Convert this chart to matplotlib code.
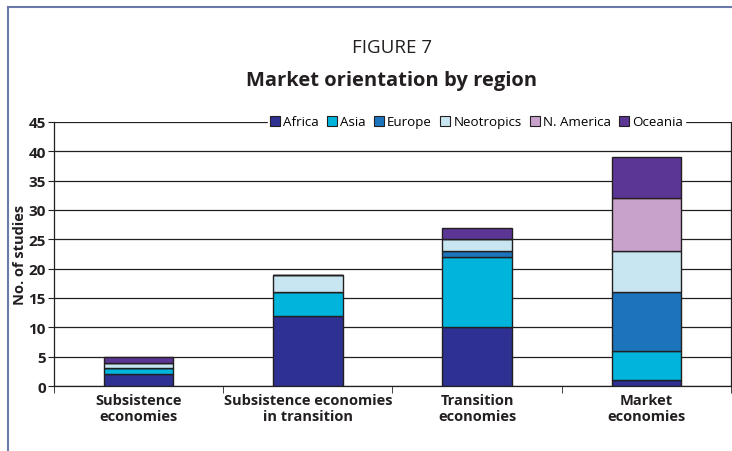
import numpy as np
import matplotlib.pyplot as plt
from matplotlib.lines import Line2D

plt.rcParams['font.family'] = ['Open Sans', 'DejaVu Sans']

# categories and stacked counts per region
categories = ['Subsistence\neconomies', 'Subsistence economies\nin transition',
              'Transition\neconomies', 'Market\neconomies']
regions = ['Africa', 'Asia', 'Europe', 'Neotropics', 'N. America', 'Oceania']
africa = [2, 12, 10, 1]
asia = [1, 4, 12, 5]
europe = [0, 0, 1, 10]
neotropics = [1, 3, 2, 7]
n_america = [0, 0, 0, 9]
oceania = [1, 0, 2, 7]
colors = ['#2e3192', '#00b4dc', '#1c75bc', '#c8e6f2', '#c9a2cc', '#5b3694']

series = [africa, asia, europe, neotropics, n_america, oceania]

fig = plt.figure(figsize=(7.32, 4.52), dpi=100)
ax = fig.add_axes([0.0738, 0.1438, 0.9248, 0.5841])

x = np.arange(len(categories))
bottom = np.zeros(len(categories))
for name, vals, c in zip(regions, series, colors):
    vals = np.array(vals, dtype=float)
    ax.bar(x, vals, 0.41, bottom=bottom, color=c, edgecolor='#231f20',
           linewidth=1.0, label=name, zorder=3)
    bottom += vals

ax.set_xlim(-0.5, len(categories) - 0.5)
ax.set_ylim(0, 45)
ax.set_yticks(np.arange(0, 46, 5))
ax.yaxis.grid(True, color='#231f20', linewidth=0.9, zorder=0)
ax.set_axisbelow(True)
ax.spines['top'].set_visible(False)
for s in ['left', 'right', 'bottom']:
    ax.spines[s].set_color('#231f20')
    ax.spines[s].set_linewidth(0.9)

ax.set_xticks(x)
ax.set_xticklabels(categories, fontsize=10.5, fontweight='bold', color='#231f20',
                   linespacing=1.2)
ax.set_xticks(np.arange(-0.5, len(categories) - 0.4, 1), minor=True)
ax.tick_params(axis='x', which='major', length=0, pad=5)
ax.tick_params(axis='x', which='minor', length=5, color='#231f20')
ax.tick_params(axis='y', length=4, color='#231f20', pad=2)
for lab in ax.get_yticklabels():
    lab.set_fontweight('bold')
    lab.set_fontsize(11)
    lab.set_color('#231f20')
ax.set_ylabel('No. of studies', fontsize=10.5, fontweight='bold', color='#231f20',
              labelpad=1)

leg = ax.legend(loc='center', bbox_to_anchor=(0.624, 1.0), ncol=6, frameon=True,
                fontsize=9.6, handlelength=0.75, handleheight=0.75,
                handletextpad=0.25, columnspacing=0.6, borderpad=0.15,
                borderaxespad=0)
leg.get_frame().set_facecolor('white')
leg.get_frame().set_edgecolor('white')
leg.get_frame().set_alpha(1)
leg.set_zorder(5)
for h in leg.legend_handles:
    h.set_edgecolor('#231f20')
    h.set_linewidth(0.8)

fig.text(0.535, 0.893, 'FIGURE 7', ha='center', va='center', fontsize=13.5,
         color='#231f20')
fig.text(0.535, 0.820, 'Market orientation by region', ha='center', va='center',
         fontsize=14.5, fontweight='bold', color='#231f20')

# frame lines at top and left
frame_c = '#6a78ac'
fig.add_artist(Line2D([8 / 732, 1], [1 - 8 / 452, 1 - 8 / 452], color=frame_c,
                      linewidth=1.5, transform=fig.transFigure))
fig.add_artist(Line2D([8 / 732, 8 / 732], [0, 1 - 8 / 452], color=frame_c,
                      linewidth=1.5, transform=fig.transFigure))

fig.savefig('out.png', dpi=100)
